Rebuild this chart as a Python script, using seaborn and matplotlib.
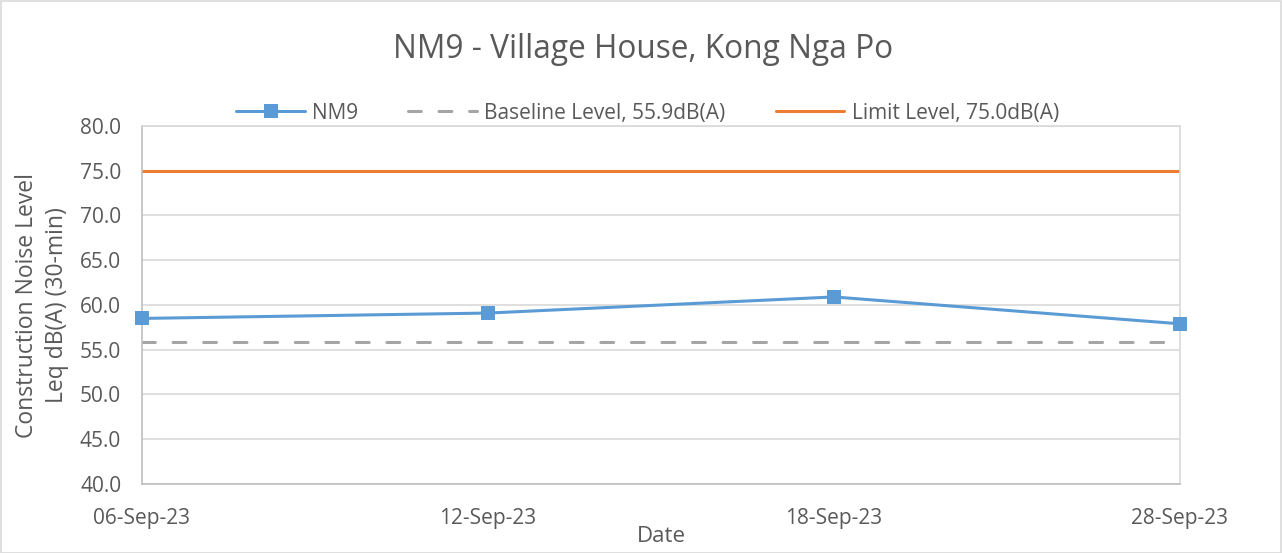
import matplotlib
matplotlib.use("Agg")
import matplotlib.pyplot as plt
import seaborn as sns
import pandas as pd
from matplotlib.patches import Rectangle

dates = ["06-Sep-23", "12-Sep-23", "18-Sep-23", "28-Sep-23"]
nm9 = [58.5, 59.1, 60.9, 57.9]
baseline_level = 55.9
limit_level = 75.0
y_ticks = [40.0, 45.0, 50.0, 55.0, 60.0, 65.0, 70.0, 75.0, 80.0]

sns.set_theme(style="white")
plt.rcParams['font.family'] = ['Open Sans', 'DejaVu Sans']

df = pd.DataFrame({"pos": range(len(dates)), "date": dates, "NM9": nm9})

fig = plt.figure(figsize=(12.82, 5.53), dpi=100)
ax = fig.add_axes([142/1282, 1-484/553, (1180-142)/1282, (484-126)/553])

txt = "#595959"
ax.axhline(baseline_level, color="#A5A5A5", lw=2.2, ls=(0, (4.2, 5.8)),
           dash_capstyle="round", label="Baseline Level, 55.9dB(A)", zorder=2)
ax.axhline(limit_level, color="#ED7D31", lw=2.2, label="Limit Level, 75.0dB(A)", zorder=2)
sns.lineplot(data=df, x="pos", y="NM9", ax=ax, color="#5B9BD5", lw=2.2,
             marker="s", markersize=10.5, markeredgewidth=0, label="NM9", zorder=3,
             clip_on=False)

ax.set_xlim(0, len(dates) - 1)
ax.set_ylim(y_ticks[0], y_ticks[-1])
ax.set_yticks(y_ticks)
ax.set_yticklabels([f"{v:.1f}" for v in y_ticks])
ax.set_xticks(range(len(dates)))
ax.set_xticklabels(dates)
ax.tick_params(axis="both", length=0, labelsize=15, colors=txt)
ax.tick_params(axis="y", pad=15)
ax.tick_params(axis="x", pad=17)
ax.grid(axis="y", color="#D9D9D9", lw=1.2)
ax.set_axisbelow(True)
for s in ["top", "right"]:
    ax.spines[s].set_color("#D9D9D9")
    ax.spines[s].set_linewidth(1.2)
for s in ["left", "bottom"]:
    ax.spines[s].set_color("#BFBFBF")
    ax.spines[s].set_linewidth(1.2)

ax.set_xlabel("Date", fontsize=16, color=txt, labelpad=-2)
ax.set_ylabel("Construction Noise Level\nLeq dB(A) (30-min)", fontsize=16.5, color=txt,
              labelpad=8, linespacing=1.3)

fig.text(0.5015, 1-50/553, "NM9 - Village House, Kong Nga Po", ha="center", va="center",
         fontsize=22.8, color=txt)

handles, labels = ax.get_legend_handles_labels()
order = [labels.index("NM9"), labels.index("Baseline Level, 55.9dB(A)"),
         labels.index("Limit Level, 75.0dB(A)")]
leg = ax.legend([handles[i] for i in order], [labels[i] for i in order],
                loc="center", bbox_to_anchor=(0.487, 1.036), ncol=3, frameon=False,
                fontsize=15, labelcolor=txt, handlelength=3.3, columnspacing=2.4,
                handletextpad=0.35, markerscale=0.9)

fig.patches.append(Rectangle((0.5/1282, 0.5/553), 1-1.5/1282, 1-1.5/553,
                             transform=fig.transFigure, fill=False,
                             edgecolor="#D9D9D9", lw=1.2))

fig.savefig("out.png", dpi=100)
